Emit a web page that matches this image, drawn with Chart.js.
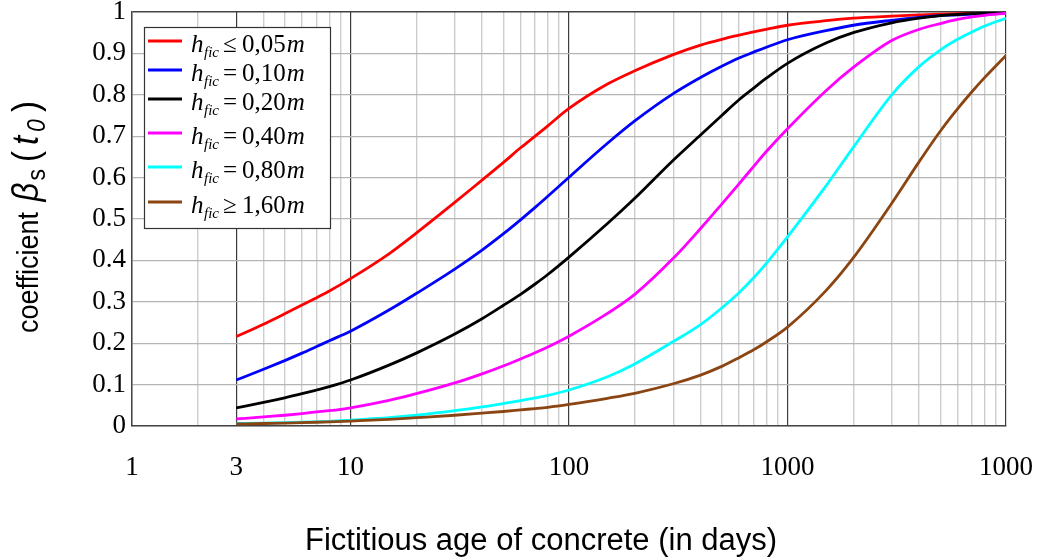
<!DOCTYPE html>
<html>
<head>
<meta charset="utf-8">
<title>Coefficient beta_s(t0) vs fictitious age</title>
<script src="https://cdn.jsdelivr.net/npm/chart.js@4.4.1/dist/chart.umd.min.js"></script>
<style>
  html, body { margin: 0; padding: 0; background: #ffffff; }
  #wrap { width: 1038px; height: 560px; }
</style>
</head>
<body>
<div id="wrap"><canvas id="c" width="1038" height="560"></canvas></div>
<script>
// Fictitious age of concrete (days) at which each curve is sampled
const DAYS = [3, 4, 5, 6, 7, 8, 10, 15, 20, 30, 40, 50, 60, 70, 80, 100, 150, 200, 300, 400, 500, 600, 700, 800,
              1000, 1500, 2000, 3000, 4000, 5000, 6000, 7000, 8000, 10000];

// beta_s(t0) for each notional thickness h_fic
const BETA_H005 = [0.216, 0.246, 0.271, 0.292, 0.310, 0.326, 0.356, 0.416, 0.466, 0.540, 0.594, 0.636, 0.672, 0.700, 0.725, 0.767,
                   0.826, 0.858, 0.897, 0.920, 0.934, 0.944, 0.952, 0.958, 0.968, 0.979, 0.985, 0.990, 0.993, 0.995, 0.996, 0.997, 0.998, 0.999];
const BETA_H010 = [0.111, 0.137, 0.158, 0.176, 0.192, 0.206, 0.229, 0.280, 0.320, 0.379, 0.425, 0.464, 0.498, 0.528, 0.555, 0.601,
                   0.683, 0.737, 0.803, 0.842, 0.869, 0.889, 0.903, 0.915, 0.933, 0.955, 0.968, 0.980, 0.987, 0.991, 0.993, 0.995, 0.996, 0.998];
const BETA_H020 = [0.044, 0.057, 0.068, 0.078, 0.087, 0.095, 0.111, 0.147, 0.176, 0.222, 0.259, 0.291, 0.318, 0.343, 0.366, 0.408,
                   0.489, 0.550, 0.642, 0.703, 0.750, 0.788, 0.816, 0.840, 0.876, 0.925, 0.950, 0.974, 0.985, 0.991, 0.994, 0.996, 0.997, 0.999];
const BETA_H040 = [0.017, 0.022, 0.026, 0.030, 0.034, 0.037, 0.044, 0.062, 0.078, 0.104, 0.126, 0.145, 0.162, 0.177, 0.191, 0.217,
                   0.272, 0.318, 0.405, 0.477, 0.536, 0.585, 0.627, 0.663, 0.718, 0.810, 0.866, 0.931, 0.958, 0.972, 0.982, 0.988, 0.992, 0.997];
const BETA_H080 = [0.006, 0.007, 0.008, 0.009, 0.010, 0.011, 0.014, 0.020, 0.026, 0.037, 0.046, 0.054, 0.061, 0.068, 0.074, 0.087,
                   0.119, 0.150, 0.204, 0.245, 0.285, 0.322, 0.358, 0.393, 0.457, 0.580, 0.673, 0.800, 0.868, 0.908, 0.934, 0.952, 0.966, 0.985];
const BETA_H160 = [0.005, 0.006, 0.007, 0.008, 0.009, 0.010, 0.012, 0.016, 0.020, 0.026, 0.031, 0.035, 0.039, 0.042, 0.045, 0.052,
                   0.067, 0.079, 0.102, 0.123, 0.144, 0.165, 0.184, 0.203, 0.239, 0.327, 0.406, 0.538, 0.638, 0.712, 0.766, 0.808, 0.842, 0.895];

// Legend text pieces: h_fic <relation> <value> m
const SERIES_REL = ['\u2264', '=', '=', '=', '=', '\u2265'];
const SERIES_VAL = ['0,05', '0,10', '0,20', '0,40', '0,80', '1,60'];
const SERIES_COLORS = ['#ff0000', '#0000ff', '#000000', '#ff00ff', '#00ffff', '#8b4513'];
const SERIES_DATA = [BETA_H005, BETA_H010, BETA_H020, BETA_H040, BETA_H080, BETA_H160];

// Axis tick labels
const X_LABEL_VALUES = [1, 3, 10, 100, 1000, 10000];
const X_LABEL_TEXTS = ['1', '3', '10', '100', '1000', '1000'];
const X_DARK_LINES = [3, 10, 100, 1000, 10000];
const Y_STEP = 0.1;

// Log grid: 1..9 in every decade up to 10000
const GRID_DAYS = [];
for (let d = 1; d <= 1000; d *= 10) {
  for (let m = 1; m <= 9; m++) GRID_DAYS.push(m * d);
}
GRID_DAYS.push(10000);

const SERIF = '"Liberation Serif", "Times New Roman", serif';
const SANS = '"Liberation Sans", Arial, sans-serif';

const datasets = SERIES_DATA.map((vals, i) => ({
  label: 'h_fic ' + SERIES_REL[i] + ' ' + SERIES_VAL[i] + 'm',
  data: DAYS.map((d, k) => ({ x: d, y: vals[k] })),
  borderColor: SERIES_COLORS[i],
  backgroundColor: SERIES_COLORS[i],
  borderWidth: 2.8,
  pointRadius: 0,
  fill: false,
  cubicInterpolationMode: 'monotone',
  order: SERIES_DATA.length - i
}));

// Legend with subscripted h_fic, drawn inside the plot
const legendRowsY = [41, 70, 99, 133, 167, 202];
const hficLegend = {
  id: 'hficLegend',
  afterDatasetsDraw(chart) {
    const c = chart.ctx;
    c.save();
    c.fillStyle = '#ffffff';
    c.fillRect(144, 27, 186, 201);
    c.strokeStyle = '#333333';
    c.lineWidth = 1.2;
    c.strokeRect(144.5, 27.5, 186, 201);
    c.textAlign = 'left';
    c.textBaseline = 'alphabetic';
    legendRowsY.forEach((y, i) => {
      c.strokeStyle = SERIES_COLORS[i];
      c.lineWidth = 3;
      c.beginPath();
      c.moveTo(148, y);
      c.lineTo(182, y);
      c.stroke();
      const base = y + 11;
      c.fillStyle = '#000000';
      let x = 191;
      c.font = 'italic 25px ' + SERIF;
      c.fillText('h', x, base);
      x += c.measureText('h').width;
      c.font = 'italic 15px ' + SERIF;
      c.fillText('fic', x + 0.5, base + 5);
      c.font = '25px ' + SERIF;
      c.fillText(SERIES_REL[i], 223, base);
      x = 242;
      c.fillText(SERIES_VAL[i], x, base);
      x += c.measureText(SERIES_VAL[i]).width;
      c.font = 'italic 25px ' + SERIF;
      c.fillText('m', x + 1, base);
    });
    c.restore();
  }
};

// Axis titles (y title carries italic symbols and subscripts)
const axisTitles = {
  id: 'axisTitles',
  afterDraw(chart) {
    const c = chart.ctx;
    c.save();
    c.fillStyle = '#000000';
    c.textBaseline = 'alphabetic';
    c.textAlign = 'center';
    c.font = '31px ' + SANS;
    c.fillText('Fictitious age of concrete (in days)', 541, 550);

    c.translate(38, 333);
    c.rotate(-Math.PI / 2);
    c.scale(1, 1.1);
    c.textAlign = 'left';
    let x = 0;
    const put = (t, font, dy, gap) => {
      c.font = font;
      c.fillText(t, x, dy);
      x += c.measureText(t).width + (gap || 0);
    };
    put('coefficient ', '27px ' + SANS, 0, 3);
    put('\u03B2', 'italic 33px ' + SANS, 0, 2);
    put('s', '23px ' + SANS, 6, 7);
    put('(', '33px ' + SANS, 0, 6);
    put('t', 'italic 33px ' + SANS, 0, 4);
    put('0', 'italic 23px ' + SANS, 6, 7);
    put(')', '33px ' + SANS, 0, 0);
    c.restore();
  }
};

new Chart(document.getElementById('c'), {
  type: 'line',
  data: { datasets },
  plugins: [hficLegend, axisTitles],
  options: {
    responsive: false,
    animation: false,
    events: [],
    layout: { padding: { top: 12, right: 32, left: 0, bottom: 0 } },
    plugins: { legend: { display: false }, tooltip: { enabled: false }, title: { display: false } },
    scales: {
      x: {
        type: 'logarithmic',
        min: 1,
        max: 10000,
        afterBuildTicks(scale) {
          scale.ticks = GRID_DAYS.map(v => ({ value: v }));
        },
        afterFit(scale) {
          scale.height = 134;
          scale.paddingLeft = 0;
          scale.paddingRight = 0;
        },
        ticks: {
          autoSkip: false,
          maxRotation: 0,
          minRotation: 0,
          padding: 26,
          color: '#000000',
          font: { family: SERIF, size: 27 },
          callback(value) {
            const k = X_LABEL_VALUES.indexOf(Number(value));
            return k >= 0 ? X_LABEL_TEXTS[k] : '';
          }
        },
        grid: {
          drawTicks: false,
          color: ctx => (ctx.tick && X_DARK_LINES.includes(ctx.tick.value)) ? '#3c3c3c' : '#cdcdcd',
          lineWidth: ctx => (ctx.tick && X_DARK_LINES.includes(ctx.tick.value)) ? 1.2 : 1.4
        },
        border: { display: true, color: '#444444', width: 1.5 }
      },
      y: {
        type: 'linear',
        min: 0,
        max: 1,
        afterFit(scale) {
          scale.width = 132;
          scale.paddingTop = 0;
          scale.paddingBottom = 0;
        },
        ticks: {
          stepSize: Y_STEP,
          padding: 6,
          color: '#000000',
          font: { family: SERIF, size: 27 },
          callback(value) {
            return String(Math.round(value * 10) / 10);
          }
        },
        grid: {
          drawTicks: false,
          color: ctx => (ctx.tick && Math.abs(ctx.tick.value - 1) < 1e-9) ? '#444444' : '#b4b4b4',
          lineWidth: ctx => (ctx.tick && Math.abs(ctx.tick.value - 1) < 1e-9) ? 1.5 : 1.2
        },
        border: { display: true, color: '#444444', width: 1.5 }
      }
    }
  }
});
</script>
</body>
</html>
